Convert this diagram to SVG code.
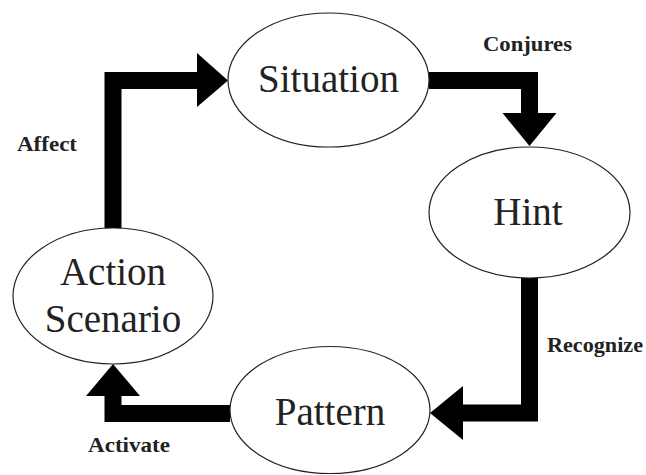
<svg xmlns="http://www.w3.org/2000/svg" width="646" height="475" viewBox="0 0 646 475">
<style>
.node{fill:#fff;stroke:#222;stroke-width:1.2}
.nt{font-family:"Liberation Serif","Times New Roman",serif;font-size:39px;fill:#222;text-anchor:middle}
.lbl{font-family:"Liberation Serif","Times New Roman",serif;font-size:21px;font-weight:bold;fill:#222}
.bar{fill:none;stroke:#000;stroke-width:17;stroke-linejoin:miter;stroke-linecap:butt}
.head{fill:#000}
</style>
<rect width="646" height="475" fill="#fff"/>
<g id="connectors">
<g id="affect">
<path class="bar" d="M113,229 V80.5 H198"/>
<polygon class="head" points="197,53 228,80.5 197,107"/>
</g>
<g id="conjures">
<path class="bar" d="M429,80.5 H529.5 V114"/>
<polygon class="head" points="502.5,113 556.5,113 529.5,146"/>
</g>
<g id="recognize">
<path class="bar" d="M529.5,278 V413 H462"/>
<polygon class="head" points="463,386 463,440 430,413"/>
</g>
<g id="activate">
<path class="bar" d="M230,413.5 H113 V395"/>
<polygon class="head" points="86,396 140,396 113,364"/>
</g>
<text class="lbl" x="483" y="51" textLength="89" lengthAdjust="spacingAndGlyphs">Conjures</text>
<text class="lbl" x="17" y="151" textLength="60" lengthAdjust="spacingAndGlyphs">Affect</text>
<text class="lbl" x="547" y="352" textLength="96" lengthAdjust="spacingAndGlyphs">Recognize</text>
<text class="lbl" x="88" y="452" textLength="82" lengthAdjust="spacingAndGlyphs">Activate</text>
</g>
<g id="situation">
<ellipse class="node" cx="328.5" cy="80" rx="100.5" ry="67"/>
<text class="nt" x="328.5" y="92">Situation</text>
</g>
<g id="hint">
<ellipse class="node" cx="529.5" cy="212.5" rx="100.5" ry="65.5"/>
<text class="nt" x="528" y="225">Hint</text>
</g>
<g id="pattern">
<ellipse class="node" cx="330" cy="410" rx="100" ry="63.5"/>
<text class="nt" x="330" y="425">Pattern</text>
</g>
<g id="action-scenario">
<ellipse class="node" cx="113" cy="296" rx="100" ry="68"/>
<text class="nt" x="113" y="285">Action</text>
<text class="nt" x="113" y="332">Scenario</text>
</g>
</svg>
